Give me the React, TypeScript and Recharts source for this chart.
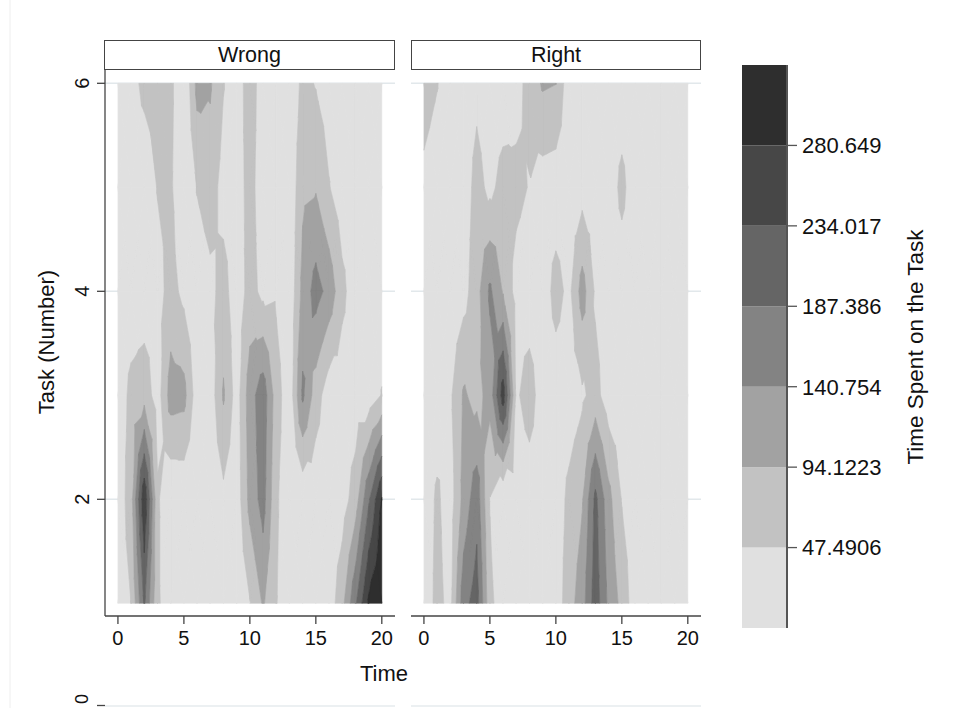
import React from 'react'
import { ScatterChart, Scatter, XAxis, YAxis, CartesianGrid, BarChart, Bar } from 'recharts'

const FONT = '"Liberation Sans", Arial, Helvetica, sans-serif'

// time steps (columns) and task numbers (rows, top to bottom)
const timePoints = [0, 1, 2, 3, 4, 5, 6, 7, 8, 9, 10, 11, 12, 13, 14, 15, 16, 17, 18, 19, 20]
const taskRows = [6, 5, 4, 3, 2, 1]

// time spent, panel "Wrong" (rows = task 6..1, cols = time 0..20)
const wrongGrid = [
  [20, 30, 60, 65, 60, 1, 110, 100, 50, 20, 75, 20, 15, 10, 60, 45, 25, 20, 20, 20, 20],
  [20, 20, 15, 50, 55, 5, 50, 70, 30, 25, 65, 20, 15, 10, 85, 90, 50, 20, 20, 20, 20],
  [20, 20, 20, 30, 65, 35, 20, 35, 65, 20, 65, 35, 40, 10, 110, 160, 125, 60, 20, 20, 20],
  [20, 60, 75, 25, 115, 110, 20, 20, 100, 25, 120, 170, 70, 15, 150, 70, 20, 20, 20, 20, 50],
  [15, 75, 275, 55, 5, 10, 10, 15, 35, 20, 110, 160, 55, 15, 10, 15, 15, 25, 70, 180, 285],
  [20, 48, 195, 55, 20, 15, 15, 15, 15, 15, 45, 100, 50, 15, 15, 15, 20, 80, 180, 290, 325],
]

// time spent, panel "Right"
const rightGrid = [
  [70, 50, 20, 20, 35, 20, 20, 30, 65, 100, 95, 15, 20, 20, 20, 20, 20, 20, 20, 20, 20],
  [35, 20, 20, 20, 65, 35, 65, 60, 45, 25, 20, 20, 28, 20, 20, 60, 20, 20, 20, 20, 20],
  [20, 20, 20, 30, 75, 150, 90, 30, 20, 20, 65, 35, 115, 40, 20, 20, 20, 20, 20, 20, 20],
  [20, 20, 40, 100, 80, 110, 260, 40, 70, 20, 20, 20, 40, 65, 20, 20, 20, 20, 20, 20, 20],
  [20, 55, 25, 110, 170, 45, 1, 15, 20, 20, 20, 60, 90, 200, 110, 45, 20, 20, 20, 20, 20],
  [20, 60, 35, 170, 210, 60, 20, 20, 20, 20, 20, 75, 120, 215, 130, 80, 20, 20, 20, 20, 20],
]

const levelCuts = [0.859, 47.4906, 94.1223, 140.754, 187.386, 234.017, 280.649, 327.281]
const levelLabels = ['47.4906', '94.1223', '140.754', '187.386', '234.017', '280.649']
const levelColors = ['#e0e0e0', '#c2c2c2', '#a2a2a2', '#838383', '#656565', '#474747', '#2e2e2e']

const xTicks = [0, 5, 10, 15, 20]
const yTicks = [2, 4, 6]

type Pt = { x: number; y: number; v: number }

// keep the part of a polygon above (or below) a level, values vary linearly
function cut(poly: Pt[], level: number, keepAbove: boolean): Pt[] {
  const out: Pt[] = []
  const inside = (p: Pt) => (keepAbove ? p.v >= level : p.v <= level)
  for (let i = 0; i < poly.length; i++) {
    const cur = poly[i]
    const prev = poly[(i + poly.length - 1) % poly.length]
    const ci = inside(cur)
    const pi = inside(prev)
    if (ci !== pi) {
      const f = (level - prev.v) / (cur.v - prev.v)
      out.push({ x: prev.x + f * (cur.x - prev.x), y: prev.y + f * (cur.y - prev.y), v: level })
    }
    if (ci) out.push(cur)
  }
  return out
}

function buildMesh(grid: number[][]) {
  const bands: Pt[][][] = levelColors.map(() => [])
  for (let r = 0; r < taskRows.length - 1; r++) {
    for (let c = 0; c < timePoints.length - 1; c++) {
      const t0 = timePoints[c]
      const t1 = timePoints[c + 1]
      const hi = taskRows[r]
      const lo = taskRows[r + 1]
      const a = { x: t0, y: lo, v: grid[r + 1][c] }
      const b = { x: t1, y: lo, v: grid[r + 1][c + 1] }
      const cc = { x: t1, y: hi, v: grid[r][c + 1] }
      const d = { x: t0, y: hi, v: grid[r][c] }
      const m = { x: (t0 + t1) / 2, y: (lo + hi) / 2, v: (a.v + b.v + cc.v + d.v) / 4 }
      const tris = [[a, b, m], [b, cc, m], [cc, d, m], [d, a, m]]
      for (const tri of tris) {
        for (let k = 0; k < levelColors.length; k++) {
          let poly: Pt[] = tri
          if (k > 0) poly = cut(poly, levelCuts[k], true)
          if (poly.length >= 3 && k < levelColors.length - 1) poly = cut(poly, levelCuts[k + 1], false)
          if (poly.length >= 3) bands[k].push(poly)
        }
      }
    }
  }
  const points: { x: number; y: number }[] = []
  const polys: { band: number; n: number }[] = []
  bands.forEach((list, k) =>
    list.forEach((poly) => {
      polys.push({ band: k, n: poly.length })
      poly.forEach((p) => points.push({ x: p.x, y: p.y }))
    })
  )
  return { points, polys }
}

const PLOT_TOP = 69
const PLOT_H = 547
const PLOT_W = 290
const Y_W = 60
const X_H = 50

const YTick = (props: any) => {
  const { x, y, payload } = props
  const cx = x - 13
  return (
    <text
      x={cx}
      y={y}
      dy="0.35em"
      textAnchor="middle"
      fontSize={20}
      fontFamily={FONT}
      fill="#111"
      transform={`rotate(-90, ${cx}, ${y})`}
    >
      {payload.value}
    </text>
  )
}

function ContourPanel({ grid, left, showY }: { grid: number[][]; left: number; showY: boolean }) {
  const mesh = React.useMemo(() => buildMesh(grid), [grid])
  const drawBands = (lp: any) => {
    const pts = lp.points || []
    const paths = levelColors.map(() => '')
    let i = 0
    for (const p of mesh.polys) {
      let s = ''
      for (let j = 0; j < p.n; j++) {
        const q = pts[i + j]
        if (!q) continue
        s += (j === 0 ? 'M' : 'L') + q.x.toFixed(2) + ',' + q.y.toFixed(2)
      }
      paths[p.band] += s + 'Z'
      i += p.n
    }
    return (
      <g>
        {paths.map((d, k) =>
          d ? (
            <path key={k} d={d} fill={levelColors[k]} stroke={levelColors[k]} strokeWidth={0.6} strokeLinejoin="round" />
          ) : null
        )}
      </g>
    )
  }
  const w = PLOT_W + (showY ? Y_W : 0)
  return (
    <div style={{ position: 'absolute', left: showY ? left - Y_W : left, top: PLOT_TOP }}>
      <ScatterChart width={w} height={PLOT_H + X_H} margin={{ top: 0, right: 0, bottom: 0, left: 0 }}>
        <CartesianGrid vertical={false} horizontalValues={yTicks} stroke="#e2e8eb" strokeWidth={1.5} />
        <XAxis
          type="number"
          dataKey="x"
          domain={[-0.98, 21]}
          allowDataOverflow
          ticks={xTicks}
          height={X_H}
          tickSize={8}
          tickMargin={7}
          axisLine={{ stroke: '#444', strokeWidth: 1.3 }}
          tickLine={{ stroke: '#444', strokeWidth: 1.3 }}
          tick={{ fontSize: 20, fill: '#111', fontFamily: FONT }}
        />
        <YAxis
          type="number"
          dataKey="y"
          domain={[0.878, 6.1375]}
          allowDataOverflow
          ticks={yTicks}
          hide={!showY}
          width={showY ? Y_W : 0}
          tickSize={8}
          axisLine={{ stroke: '#444', strokeWidth: 1.3 }}
          tickLine={{ stroke: '#444', strokeWidth: 1.3 }}
          tick={<YTick />}
        />
        <Scatter data={mesh.points} isAnimationActive={false} shape={() => <g />} line={drawBands} />
      </ScatterChart>
    </div>
  )
}

const colorRow: Record<string, number | string> = { name: 'scale' }
levelColors.forEach((_, k) => {
  colorRow['b' + k] = k === 0 ? levelCuts[1] : levelCuts[k + 1] - levelCuts[k]
})
const colorData = [colorRow]

function ColorBar() {
  return (
    <div style={{ position: 'absolute', left: 742, top: 65 }}>
      <BarChart
        width={45 + 130}
        height={563}
        data={colorData}
        margin={{ top: 0, right: 0, bottom: 0, left: 0 }}
        barCategoryGap={0}
        barGap={0}
      >
        <XAxis dataKey="name" hide />
        <YAxis
          type="number"
          orientation="right"
          domain={[levelCuts[0], levelCuts[levelCuts.length - 1]]}
          allowDataOverflow
          ticks={levelCuts.slice(1, -1)}
          tickFormatter={(v: number) => levelLabels[levelCuts.indexOf(v) - 1] ?? String(v)}
          width={130}
          tickSize={10}
          tickMargin={5}
          axisLine={{ stroke: '#555', strokeWidth: 2 }}
          tickLine={{ stroke: '#555', strokeWidth: 1.3 }}
          tick={{ fontSize: 22, fill: '#111', fontFamily: FONT }}
        />
        {levelColors.map((c, k) => (
          <Bar key={k} dataKey={'b' + k} stackId="s" fill={c} isAnimationActive={false} />
        ))}
      </BarChart>
    </div>
  )
}

const headerStyle = (left: number, width: number): React.CSSProperties => ({
  position: 'absolute',
  left,
  top: 40,
  width,
  height: 30,
  boxSizing: 'border-box',
  border: '1.5px solid #444',
  display: 'flex',
  alignItems: 'center',
  justifyContent: 'center',
  fontSize: 21.5,
  fontFamily: FONT,
  color: '#111',
  background: '#fff',
})

export default function App() {
  return (
    <div
      style={{
        position: 'absolute',
        left: 0,
        top: 0,
        width: 965,
        height: 708,
        background: '#fff',
        overflow: 'hidden',
        fontFamily: FONT,
      }}
    >
      <div style={headerStyle(104, 291)}>Wrong</div>
      <div style={headerStyle(411, 290)}>Right</div>
      <ContourPanel grid={wrongGrid} left={105} showY />
      <ContourPanel grid={rightGrid} left={411} showY={false} />
      <ColorBar />
      <svg width={965} height={708} style={{ position: 'absolute', left: 0, top: 0, pointerEvents: 'none' }}>
        <line x1={10} y1={0} x2={10} y2={708} stroke="#eeeeee" strokeWidth={1} />
        <text
          x={46}
          y={342}
          dy="0.35em"
          textAnchor="middle"
          fontSize={22}
          fill="#111"
          fontFamily={FONT}
          transform="rotate(-90, 46, 342)"
        >
          Task (Number)
        </text>
        <text x={384} y={673} dy="0.35em" textAnchor="middle" fontSize={22} fill="#111" fontFamily={FONT}>
          Time
        </text>
        <text
          x={915}
          y={347}
          dy="0.35em"
          textAnchor="middle"
          fontSize={22.5}
          fill="#111"
          fontFamily={FONT}
          transform="rotate(-90, 915, 347)"
        >
          Time Spent on the Task
        </text>
        <line x1={105} y1={706} x2={395} y2={706} stroke="#e6ebee" strokeWidth={1.5} />
        <line x1={411} y1={706} x2={701} y2={706} stroke="#e6ebee" strokeWidth={1.5} />
        <line x1={97} y1={705.5} x2={105} y2={705.5} stroke="#444" strokeWidth={1.3} />
        <text
          x={82}
          y={699}
          dy="0.35em"
          textAnchor="middle"
          fontSize={18}
          fill="#111"
          fontFamily={FONT}
          transform="rotate(-90, 82, 699)"
        >
          0
        </text>
      </svg>
    </div>
  )
}
